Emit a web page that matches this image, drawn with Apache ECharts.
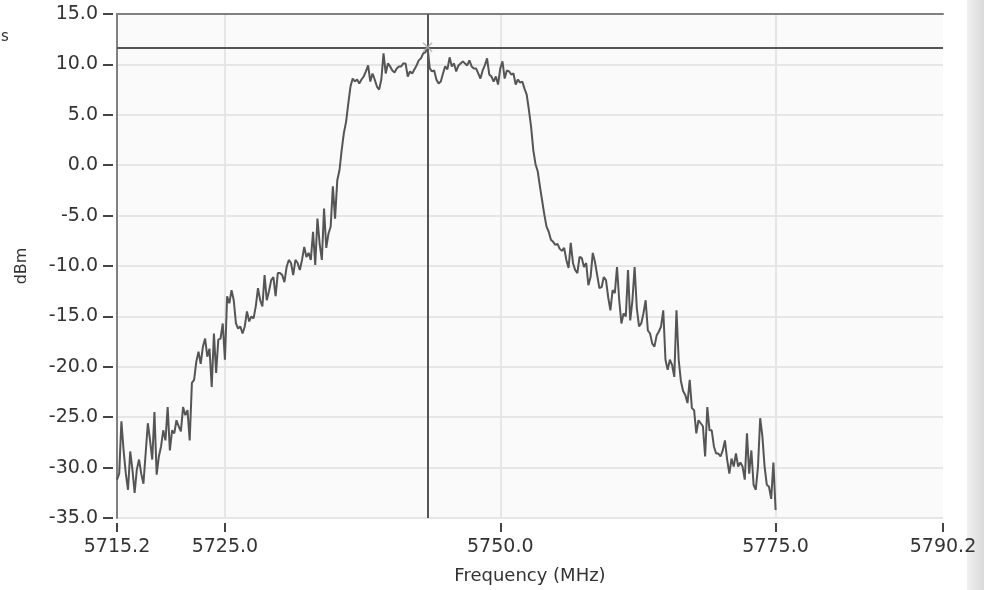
<!DOCTYPE html>
<html>
<head>
<meta charset="utf-8">
<title>Spectrum</title>
<script src="https://cdn.jsdelivr.net/npm/echarts@6.0.0/dist/echarts.min.js"></script>
<style>
  html, body { margin: 0; padding: 0; background: #fff; }
  #chart { width: 984px; height: 590px; }
</style>
</head>
<body>
<div id="chart"></div>
<script>
// 频谱数据：起始频率 5715.2 MHz，步进 0.2 MHz
var startFreq = 5715.2;
var stepFreq = 0.2;
var levels = [
  -31.2, -30.6, -25.4, -28.3, -30.6, -32.2, -28.4, -30.2, -32.5, -30.2,
  -29.2, -30.6, -31.6, -28.6, -25.6, -27.3, -29.2, -24.5, -30.7, -28.9,
  -27.9, -26.3, -27.3, -24.0, -28.3, -26.3, -26.6, -25.3, -25.9, -26.4,
  -24.0, -24.8, -24.3, -27.3, -21.6, -21.3, -19.5, -18.5, -19.7, -18.0,
  -17.2, -19.0, -18.2, -22.0, -16.7, -20.6, -17.3, -17.2, -15.7, -19.3,
  -13.0, -13.7, -12.4, -13.4, -15.7, -16.2, -16.0, -16.7, -16.0, -14.5,
  -15.5, -15.0, -15.2, -14.0, -12.2, -13.4, -14.0, -10.9, -13.4, -12.5,
  -11.4, -11.1, -13.0, -10.7, -10.7, -10.9, -11.6, -10.1, -9.4, -9.7,
  -10.9, -9.4, -9.7, -10.4, -9.4, -8.1, -9.1, -8.7, -9.4, -6.6,
  -9.9, -5.3, -7.8, -9.4, -4.3, -8.2, -6.8, -6.1, -2.1, -5.3,
  -1.5, -0.5, 1.5, 3.2, 4.3, 6.1, 7.8, 8.6, 8.3, 8.5,
  8.1, 8.5, 8.8, 9.3, 9.9, 8.3, 9.1, 8.5, 7.8, 7.5,
  8.5, 11.1, 9.1, 10.1, 9.8, 9.4, 9.2, 9.6, 9.8, 9.8,
  10.1, 10.1, 8.8, 9.3, 9.1, 9.5, 9.9, 10.4, 10.6, 11.1,
  11.2, 11.7, 9.6, 9.3, 9.4, 8.5, 8.1, 8.3, 9.1, 9.8,
  9.5, 10.7, 9.8, 10.1, 9.3, 9.9, 10.1, 10.3, 10.1, 9.9,
  10.4, 9.8, 9.6, 9.6, 9.1, 8.6, 9.4, 9.9, 10.6, 9.0,
  8.8, 8.3, 8.8, 8.0, 9.6, 10.3, 8.6, 9.4, 9.3, 9.0,
  9.1, 8.0, 8.5, 8.2, 8.3, 7.6, 7.0, 5.5, 3.8, 1.5,
  0.1, -0.6, -2.1, -3.5, -4.9, -6.1, -6.6, -7.4, -7.6, -7.9,
  -7.8, -8.3, -8.5, -8.2, -9.4, -10.2, -7.7, -9.7, -10.4, -10.7,
  -9.1, -9.2, -10.1, -9.7, -11.9, -11.1, -8.7, -9.6, -10.9, -12.2,
  -12.1, -11.1, -11.4, -13.1, -14.4, -12.4, -12.7, -10.1, -13.4, -15.7,
  -14.7, -15.0, -10.4, -15.4, -13.4, -10.1, -14.2, -16.0, -15.7, -14.7,
  -13.4, -16.4, -16.7, -17.7, -18.0, -16.9, -16.5, -16.0, -14.4, -19.3,
  -20.3, -19.3, -19.8, -21.0, -14.4, -19.3, -21.4, -22.4, -22.8, -23.6,
  -21.3, -24.1, -24.3, -26.6, -25.3, -25.6, -25.9, -28.9, -24.0, -26.3,
  -26.3, -27.9, -28.6, -28.6, -28.9, -28.3, -27.3, -29.2, -30.6, -29.1,
  -29.9, -28.6, -29.9, -29.5, -29.9, -31.2, -26.6, -30.6, -28.3, -31.7,
  -32.2, -29.9, -25.1, -26.9, -29.9, -31.7, -31.9, -33.1, -29.5, -34.2
];
// 坐标轴刻度
var freqTicks = [5715.2, 5725.0, 5750.0, 5775.0, 5790.2];
var freqMin = 5715.2, freqMax = 5790.2;
var dbMin = -35, dbMax = 15, dbStep = 5;
// 游标位置
var cursorFreq = 5743.4;
var cursorLevel = 11.7;

var points = [];
for (var i = 0; i < levels.length; i++) {
  points.push([+(startFreq + i * stepFreq).toFixed(1), levels[i]]);
}

var font = 'DejaVu Sans, Verdana, sans-serif';
var gridColor = '#e6e6e6';
var chart = echarts.init(document.getElementById('chart'));
var option = {
  animation: false,
  backgroundColor: '#fff',
  grid: {
    left: 117, right: 41, top: 14, bottom: 72,
    show: true, backgroundColor: '#fafafa', borderWidth: 0
  },
  graphic: [
    { type: 'rect', left: 967, top: 0, shape: { width: 17, height: 590 },
      style: { fill: new echarts.graphic.LinearGradient(0, 0, 1, 0, [
        { offset: 0, color: '#f0f0f0' }, { offset: 1, color: '#dadada' }]) } },
    { type: 'text', left: 1, top: 30, style: { text: 's', fontSize: 15, fontFamily: font, fill: '#333' } }
  ],
  xAxis: [
    {
      type: 'value', min: freqMin, max: freqMax, position: 'bottom', offset: 5,
      name: 'Frequency (MHz)', nameLocation: 'middle', nameGap: 44,
      nameTextStyle: { fontSize: 18, fontFamily: font, color: '#333' },
      axisLine: { show: false, onZero: false },
      axisTick: { customValues: freqTicks, length: 9, lineStyle: { color: '#444', width: 2 } },
      axisLabel: {
        customValues: freqTicks, fontSize: 19, fontFamily: font, color: '#333', margin: 15,
        formatter: function (v) { return v.toFixed(1); }
      },
      // 右边界不画网格线
      splitLine: { show: true, lineStyle: { color: [gridColor, gridColor, gridColor, gridColor, 'rgba(0,0,0,0)'], width: 2 } }
    },
    {
      type: 'value', min: freqMin, max: freqMax, position: 'top',
      axisLine: { show: true, onZero: false, lineStyle: { color: '#808080', width: 2 } },
      axisTick: { show: false }, axisLabel: { show: false }, splitLine: { show: false }
    }
  ],
  yAxis: [
    {
      type: 'value', min: dbMin, max: dbMax, interval: dbStep, offset: 4,
      name: 'dBm', nameLocation: 'middle', nameGap: 83, nameRotate: 90,
      nameTextStyle: { fontSize: 16, fontFamily: font, color: '#333' },
      axisLine: { show: false, onZero: false },
      axisTick: { length: 10, lineStyle: { color: '#444', width: 2 } },
      axisLabel: {
        fontSize: 19, fontFamily: font, color: '#333', margin: 15,
        formatter: function (v) { return v.toFixed(1); }
      },
      splitLine: { show: true, lineStyle: { color: gridColor, width: 2 } }
    },
    {
      type: 'value', min: dbMin, max: dbMax, position: 'left',
      axisLine: { show: true, onZero: false, lineStyle: { color: '#808080', width: 2 } },
      axisTick: { show: false }, axisLabel: { show: false }, splitLine: { show: false }
    }
  ],
  series: [
    {
      type: 'line', data: points, showSymbol: false, sampling: false,
      lineStyle: { color: '#555', width: 2 },
      markLine: {
        silent: true, symbol: ['none', 'none'], label: { show: false },
        lineStyle: { color: '#555', width: 2, type: 'solid' },
        data: [{ xAxis: cursorFreq }, { yAxis: cursorLevel }]
      }
    },
    {
      type: 'scatter', data: [[cursorFreq, cursorLevel]], z: 5,
      symbol: 'path://M0 0L10 10M10 0L0 10', symbolSize: 9,
      itemStyle: { color: 'none', borderColor: '#aaa', borderWidth: 1.5 }
    }
  ]
};
chart.setOption(option);
</script>
</body>
</html>
